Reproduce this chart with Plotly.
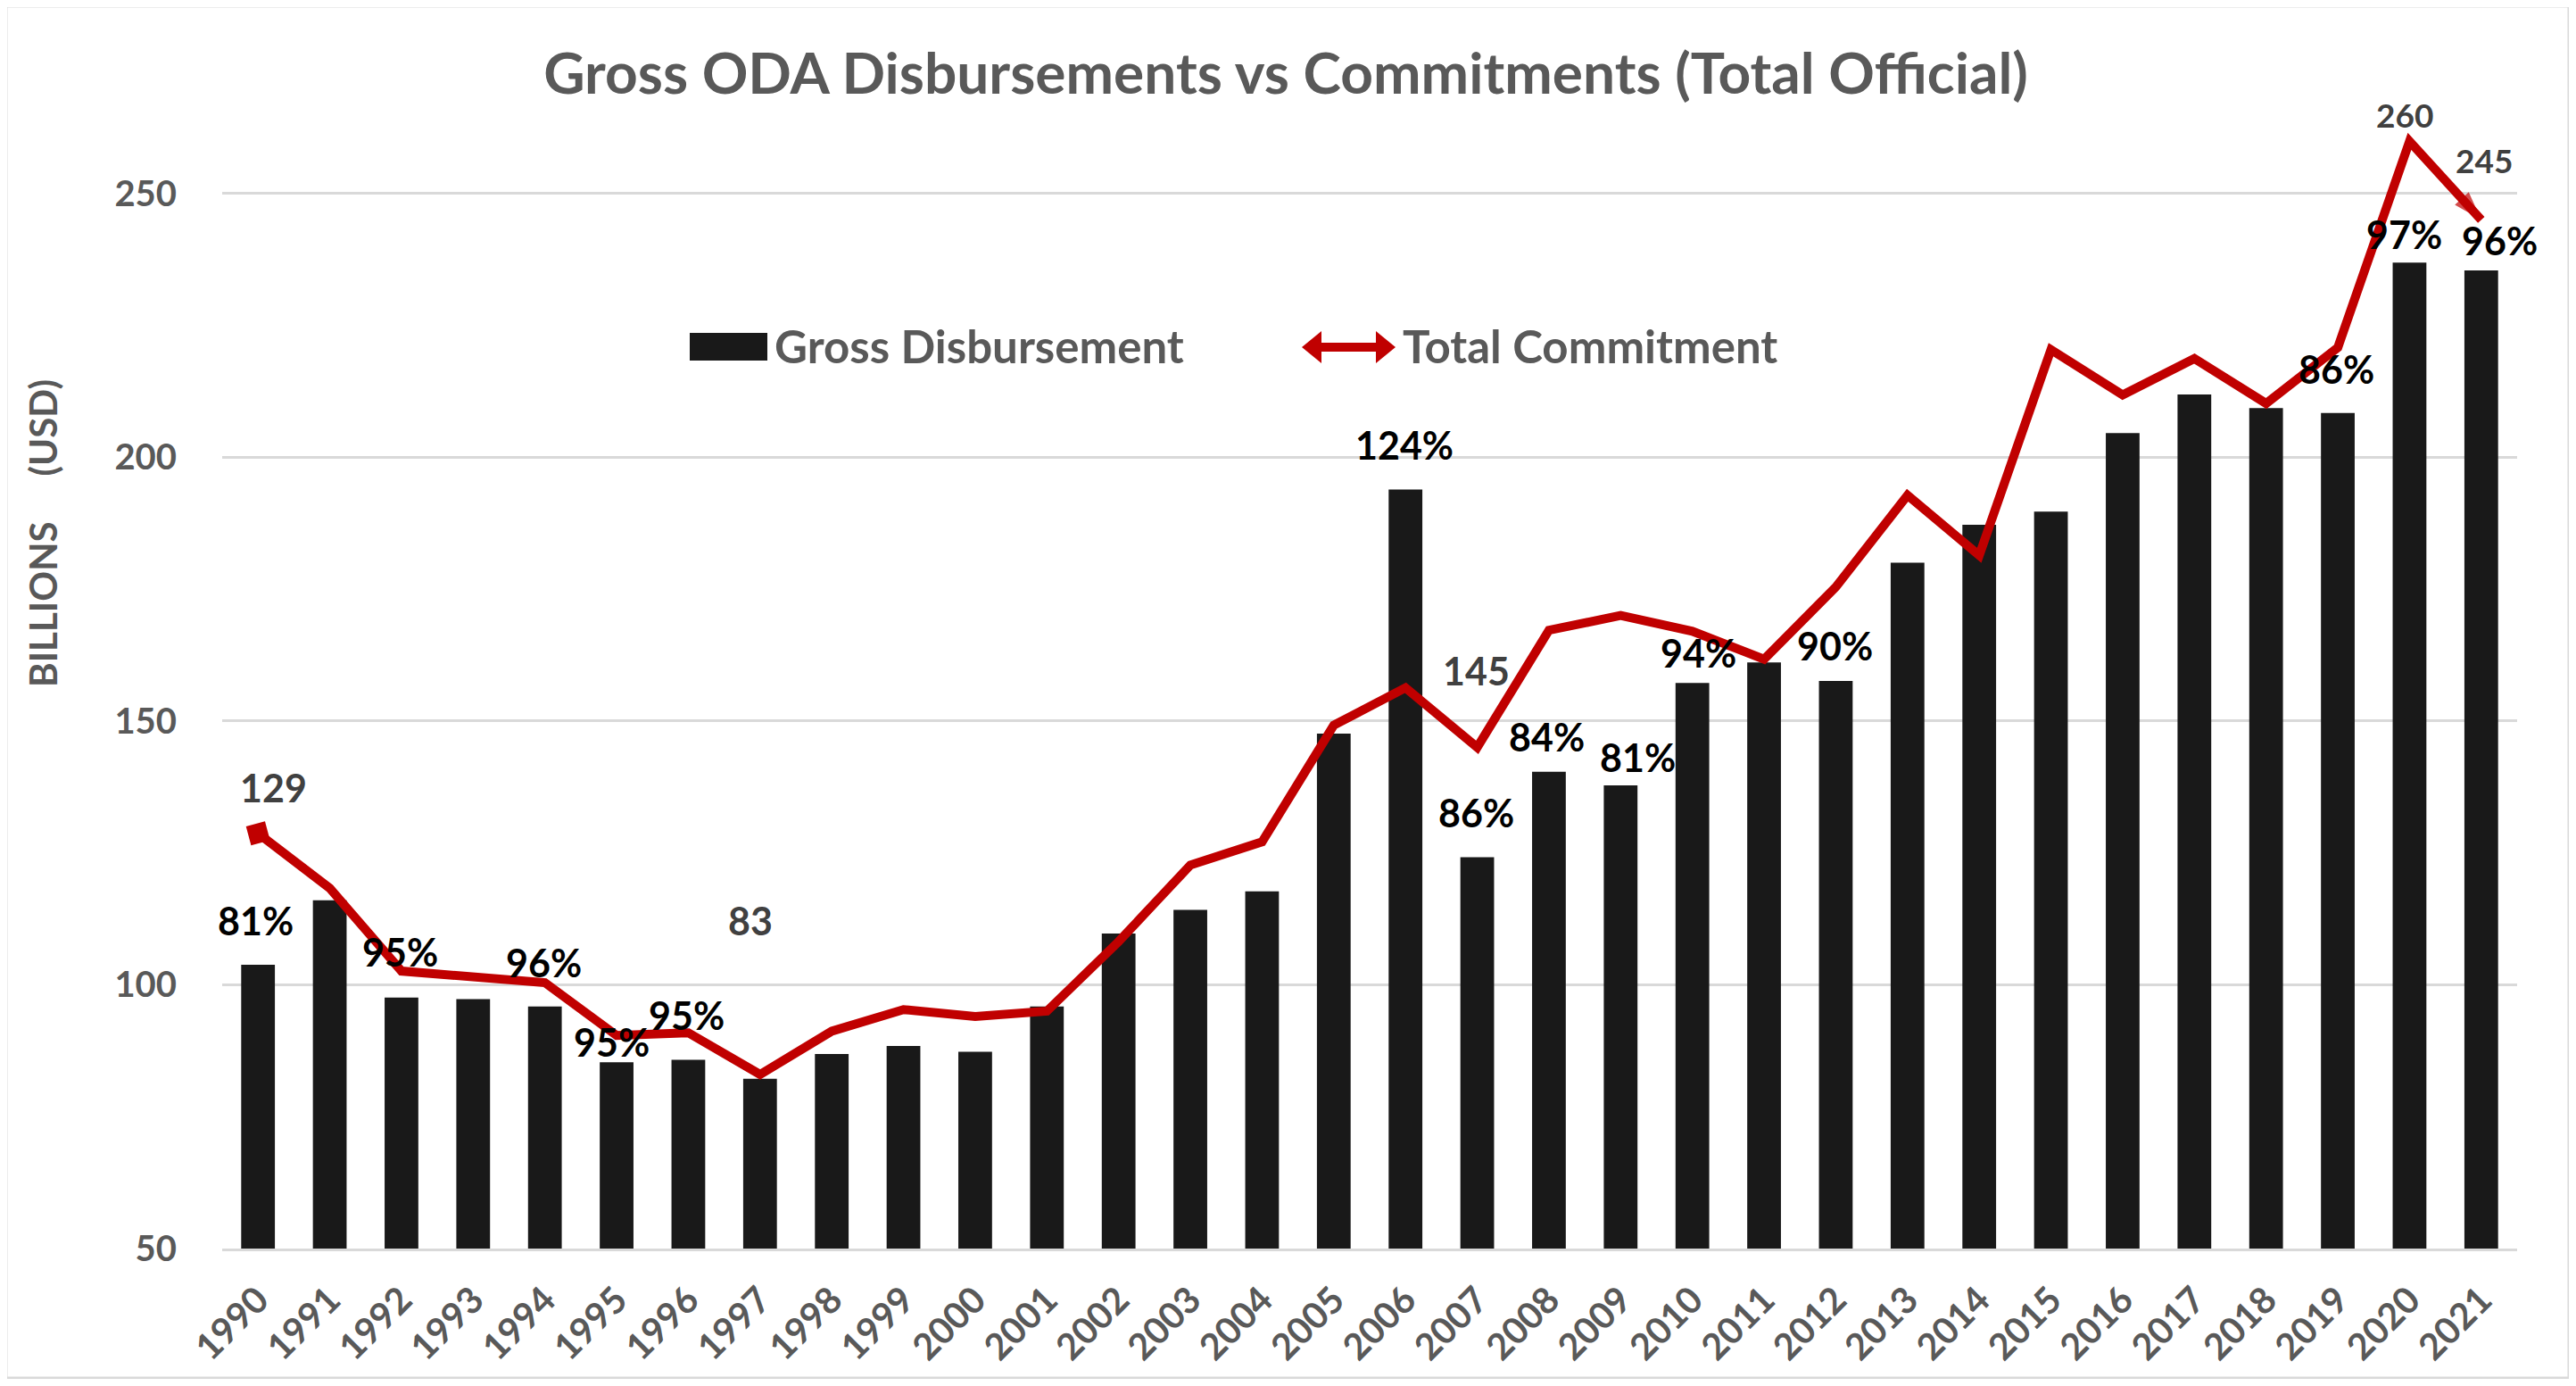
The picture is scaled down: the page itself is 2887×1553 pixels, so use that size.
import plotly.graph_objects as go

# ---------------- data ----------------
years = list(range(1990, 2022))
year_labels = [str(y) for y in years]
gross_disbursement = [103.8, 116.0, 97.6, 97.3, 95.9, 85.3, 85.8, 82.2, 86.9, 88.4,
                      87.3, 95.9, 109.7, 114.2, 117.7, 147.6, 193.9, 124.2, 140.4, 137.8,
                      157.2, 161.1, 157.6, 180.0, 187.2, 189.7, 204.6, 211.9, 209.3, 208.4,
                      236.9, 235.4]
total_commitment = [128.7, 118.3, 102.6, 101.5, 100.4, 90.4, 90.9, 83.0, 91.2, 95.3,
                    94.0, 95.0, 108.2, 122.7, 127.1, 149.2, 156.3, 145.0, 167.2, 170.0,
                    167.0, 161.7, 175.4, 192.8, 181.4, 220.4, 211.8, 218.7, 210.2, 220.8,
                    259.9, 245.0]

pct_text = ["81%", "95%", "96%", "95%", "95%", "124%", "86%", "84%", "81%", "94%",
            "90%", "86%", "97%", "96%"]
commit_text = ["129", "83", "145", "260", "245"]
y_ticks = [50, 100, 150, 200, 250]

# label placement (layout only)
pct_pos = [(1989.97, 112.1), (1991.98, 106.2), (1993.98, 104.3), (1994.93, 89.1),
           (1995.98, 94.2), (2005.99, 202.3), (2006.99, 132.6), (2007.97, 147.1),
           (2009.24, 143.1), (2010.09, 163.0), (2011.99, 164.2), (2018.98, 216.7),
           (2019.93, 242.3), (2021.26, 241.0)]
commit_pos = [(1990.21, 137.3), (1996.87, 112.1), (2006.99, 159.6),
              (2019.93, 264.9), (2021.04, 256.3)]
commit_size = [43, 43, 43, 37, 37]

# ---------------- style ----------------
FONT = "Lato, 'Open Sans', 'DejaVu Sans', sans-serif"
GREY = "#595959"
RED = "#C00000"
BAR = "#191919"
GRID = "#d9d9d9"

SCREEN_W, SCREEN_H = 2887, 1553
BODY = 8                      # default page margin around the plot div
W, H = SCREEN_W - 2 * BODY, SCREEN_H - 2 * BODY
PL, PR, PT, PB = 249, 2821, 69, 1399   # plot area in screen pixels
ML, MR, MT, MB = PL - BODY, SCREEN_W - BODY - PR, PT - BODY, SCREEN_H - BODY - PB
PW, PH = PR - PL, PB - PT


def px(x):
    return (x - PL) / PW


def py(y):
    return (PB - y) / PH


fig = go.Figure()

fig.add_trace(go.Bar(
    x=years, y=gross_disbursement, name="Gross Disbursement",
    marker=dict(color=BAR, line=dict(width=0)), width=0.47,
    showlegend=False,
))

n = len(years)
sizes = [0] * (n - 1) + [34]
symbols = ["circle"] * (n - 1) + ["arrow"]
fig.add_trace(go.Scatter(
    x=years, y=total_commitment, name="Total Commitment", mode="lines+markers",
    line=dict(color=RED, width=10),
    marker=dict(color=RED, size=sizes, symbol=symbols, angleref="previous",
                line=dict(width=0)),
    showlegend=False,
))
# start marker of the commitment line
fig.add_trace(go.Scatter(
    x=years[:1], y=total_commitment[:1], mode="markers",
    marker=dict(color=RED, size=22, symbol="square", angle=-15, line=dict(width=0)),
    showlegend=False, hoverinfo="skip",
))

annotations = []
for (x, y), t in zip(pct_pos, pct_text):
    annotations.append(dict(x=x, y=y, xref="x", yref="y", text=t, showarrow=False,
                            font=dict(family=FONT, size=43, color="#000000", weight="bold")))
for (x, y), t, s in zip(commit_pos, commit_text, commit_size):
    annotations.append(dict(x=x, y=y, xref="x", yref="y", text=t, showarrow=False,
                            font=dict(family=FONT, size=s, color="#404040", weight="bold")))

# y axis title
annotations.append(dict(x=px(48), y=py(598), xref="paper", yref="paper",
                        xanchor="center", yanchor="middle",
                        text="BILLIONS&nbsp;&nbsp;&nbsp;&nbsp;&nbsp;(USD)", textangle=-90,
                        showarrow=False,
                        font=dict(family=FONT, size=42, color=GREY, weight="bold")))

# legend texts
annotations.append(dict(x=px(866), y=py(387), xref="paper", yref="paper",
                        xanchor="left", yanchor="middle", text="Gross Disbursement",
                        showarrow=False,
                        font=dict(family=FONT, size=51, color=GREY, weight="bold")))
annotations.append(dict(x=px(1570), y=py(387), xref="paper", yref="paper",
                        xanchor="left", yanchor="middle", text="Total Commitment",
                        showarrow=False,
                        font=dict(family=FONT, size=51, color=GREY, weight="bold")))

LY = 389  # legend symbol centre (screen px)
shapes = [
    # chart border
    dict(type="rect", xref="paper", yref="paper", x0=px(7), x1=px(2879),
         y0=py(1544), y1=py(7), line=dict(color=GRID, width=3), layer="below"),
    # legend: bar swatch
    dict(type="rect", xref="paper", yref="paper", x0=px(773), x1=px(860),
         y0=py(LY + 15), y1=py(LY - 16), fillcolor=BAR, line=dict(width=0)),
    # legend: line
    dict(type="line", xref="paper", yref="paper", x0=px(1475), x1=px(1548),
         y0=py(LY), y1=py(LY), line=dict(color=RED, width=10)),
    # legend: arrowheads
    dict(type="path", xref="paper", yref="paper",
         path=f"M {px(1459)} {py(LY)} L {px(1481)} {py(LY - 18)} L {px(1481)} {py(LY + 18)} Z",
         fillcolor=RED, line=dict(width=0)),
    dict(type="path", xref="paper", yref="paper",
         path=f"M {px(1564)} {py(LY)} L {px(1542)} {py(LY - 18)} L {px(1542)} {py(LY + 18)} Z",
         fillcolor=RED, line=dict(width=0)),
]

fig.update_layout(
    width=W, height=H,
    margin=dict(l=ML, r=MR, t=MT, b=MB, pad=0, autoexpand=False),
    paper_bgcolor="white", plot_bgcolor="white",
    font=dict(family=FONT, color=GREY),
    title=dict(text="Gross ODA Disbursements vs Commitments (Total Official)",
               x=(1441 - BODY) / W, xref="container", xanchor="center",
               y=1 - (83 - BODY) / H, yref="container", yanchor="middle",
               font=dict(family=FONT, size=64, color=GREY, weight="bold")),
    bargap=0.5,
    annotations=annotations,
    shapes=shapes,
    showlegend=False,
)

fig.update_xaxes(
    range=[years[0] - 0.5, years[-1] + 0.5], automargin=False,
    tickmode="array", tickvals=years, ticktext=year_labels,
    tickangle=-45, tickfont=dict(family=FONT, size=41, color=GREY, weight="bold"),
    showgrid=False, zeroline=False, showline=True, linecolor=GRID, linewidth=3,
    ticks="", ticklabelstandoff=14,
)
fig.update_yaxes(
    range=[50, 275], automargin=False, tickmode="array", tickvals=y_ticks,
    tickfont=dict(family=FONT, size=40, color=GREY, weight="bold"),
    showgrid=True, gridcolor=GRID, gridwidth=3, zeroline=False, showline=False,
    ticks="", ticklabelstandoff=50,
)

fig.write_html("out.html")
